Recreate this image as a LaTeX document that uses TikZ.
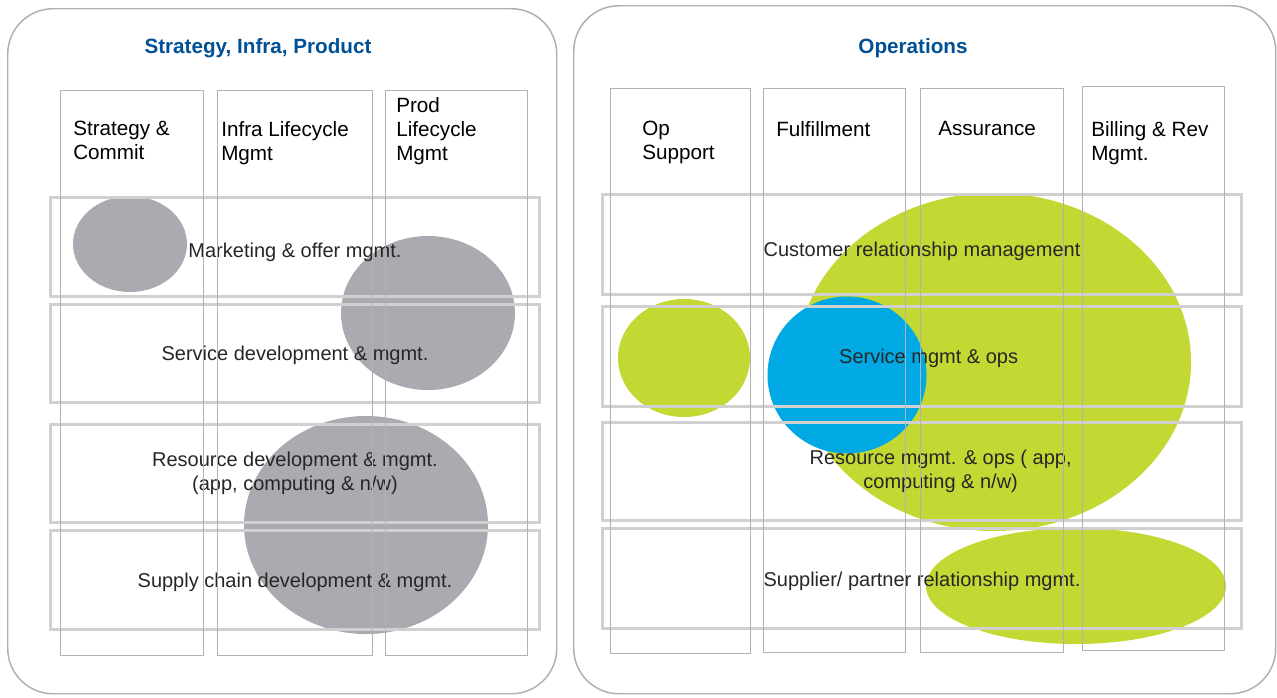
\documentclass[tikz,border=0pt]{standalone}
\usepackage{fontspec}
\setmainfont{Liberation Sans}
\usetikzlibrary{shapes.geometric}
\definecolor{titleblue}{RGB}{0,80,150}
\definecolor{panelgray}{RGB}{175,175,175}
\definecolor{colgray}{RGB}{178,178,178}
\definecolor{rowgray}{RGB}{208,208,208}
\definecolor{blobgray}{RGB}{170,171,176}
\definecolor{blobgreen}{RGB}{196,216,52}
\definecolor{blobblue}{RGB}{0,169,228}
\newcommand{\pxu}{0.75pt}
\newcommand{\dropby}[2]{\raisebox{-#1}[\height][\depth]{#2}}
\begin{document}
\begin{tikzpicture}[
    x=0.75pt, y=-0.75pt,
    panel/.style={rectangle, draw=panelgray, line width=1.1pt, rounded corners=34pt, anchor=north west, inner sep=0pt},
    colbox/.style={rectangle, draw=colgray, line width=0.9pt, anchor=north west, inner sep=0pt},
    rowbox/.style={rectangle, draw=rowgray, line width=2.2pt, anchor=north west, inner sep=0pt, align=center, text=black!85, font=\fontsize{15}{18}\selectfont},
    blob/.style={ellipse, inner sep=0pt},
    head/.style={anchor=north west, inner sep=0pt, align=left, font=\fontsize{15.5}{18}\selectfont},
    title/.style={font=\bfseries\fontsize{15.5}{18}\selectfont, text=titleblue}
]
\useasboundingbox (0,0) rectangle (1277,697);

% ========== PANELS ==========
\node[panel, minimum width=549*\pxu, minimum height=685*\pxu] (left) at (7,8) {};
\node[panel, minimum width=702*\pxu, minimum height=688*\pxu] (right) at (573,5) {};

\node[title] (lefttitle) at (258,48) {Strategy, Infra, Product};
\node[title] (righttitle) at (913,48) {Operations};

% ========== BLOBS ==========
\node[blob, fill=blobgray, minimum width=114*\pxu, minimum height=96*\pxu] (gmkt) at (130,244) {};
\node[blob, fill=blobgray, minimum width=174*\pxu, minimum height=154*\pxu] (gprod) at (428,313) {};
\node[blob, fill=blobgray, minimum width=244*\pxu, minimum height=218*\pxu] (ginfra) at (366,525) {};

\node[blob, fill=blobgreen, minimum width=132*\pxu, minimum height=118*\pxu] (opsup) at (684,358) {};
\node[blob, fill=blobgreen, minimum width=394*\pxu, minimum height=338*\pxu] (assur) at (994,362) {};
\node[blob, fill=blobgreen, minimum width=300*\pxu, minimum height=116*\pxu] (suppl) at (1076,586) {};
\node[blob, fill=blobblue, minimum width=159*\pxu, minimum height=157*\pxu] (fulfil) at (847,375) {};

% ========== ROWS ==========
\node[rowbox, minimum width=489*\pxu, minimum height=99*\pxu] (mkt) at (49,196) {\dropby{3.75pt}{Marketing \& offer mgmt.}};
\node[rowbox, minimum width=489*\pxu, minimum height=98*\pxu] (svcdev) at (49,303) {\dropby{1.5pt}{Service development \& mgmt.}};
\node[rowbox, minimum width=489*\pxu, minimum height=98*\pxu] (resdev) at (49,423) {Resource development \& mgmt.\\(app, computing \& n/w)};
\node[rowbox, minimum width=489*\pxu, minimum height=99*\pxu] (supdev) at (49,529) {\dropby{1.5pt}{Supply chain development \& mgmt.}};

\node[rowbox, minimum width=639*\pxu, minimum height=100*\pxu] (crm) at (601,193) {\dropby{5pt}{Customer relationship management}};
\node[rowbox, minimum width=639*\pxu, minimum height=100*\pxu] (svcops) at (601,305) {\hspace*{10pt}\dropby{1.5pt}{Service mgmt \& ops}};
\node[rowbox, minimum width=639*\pxu, minimum height=98*\pxu] (resops) at (601,421) {\hspace*{28pt}Resource mgmt. \& ops ( app,\\\hspace*{28pt}computing \& n/w)};
\node[rowbox, minimum width=639*\pxu, minimum height=100*\pxu] (prm) at (601,527) {\dropby{2pt}{Supplier/ partner relationship mgmt.}};

% ========== COLUMNS ==========
\node[colbox, minimum width=143*\pxu, minimum height=565*\pxu] (strat) at (60,90) {};
\node[colbox, minimum width=155*\pxu, minimum height=565*\pxu] (infra) at (217,90) {};
\node[colbox, minimum width=142*\pxu, minimum height=565*\pxu] (prod) at (385,90) {};

\node[colbox, minimum width=140*\pxu, minimum height=565*\pxu] (opsupport) at (610,88) {};
\node[colbox, minimum width=142*\pxu, minimum height=564*\pxu] (fulfilment) at (763,88) {};
\node[colbox, minimum width=143*\pxu, minimum height=564*\pxu] (assurance) at (920,88) {};
\node[colbox, minimum width=142*\pxu, minimum height=564*\pxu] (billing) at (1082,86) {};

% ========== HEADERS ==========
\node[head] (stratlbl) at (73,121) {Strategy \&\\Commit};
\node[head] (infralbl) at (221,121) {Infra Lifecycle\\Mgmt};
\node[head] (prodlbl) at (396,97) {Prod\\Lifecycle\\Mgmt};

\node[head] (oplbl) at (642,121) {Op\\Support};
\node[head] (fullbl) at (776,121) {Fulfillment};
\node[head] (asslbl) at (938,121) {Assurance};
\node[head] (billlbl) at (1091,121) {Billing \& Rev\\Mgmt.};

\end{tikzpicture}
\end{document}
